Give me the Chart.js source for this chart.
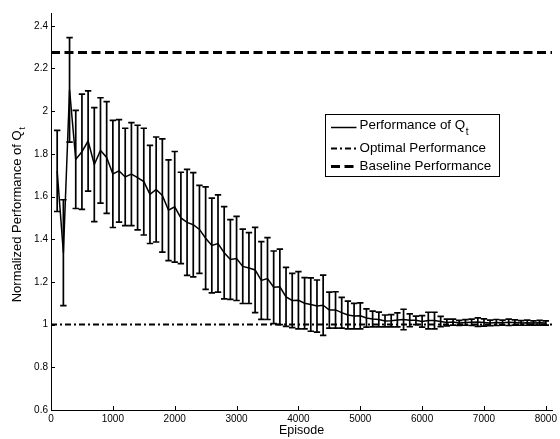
<!DOCTYPE html>
<html>
<head>
<meta charset="utf-8">
<script src="https://cdn.jsdelivr.net/npm/chart.js@4"></script>
<style>
  html, body { margin: 0; padding: 0; background: #fff; }
  #wrap { width: 560px; height: 439px; position: relative; }
</style>
</head>
<body>
<div id="wrap"><canvas id="c" width="560" height="439"></canvas></div>
<script>
// ---- data ----
const episodes = [
  100,200,300,400,500,600,700,800,900,1000,
  1100,1200,1300,1400,1500,1600,1700,1800,1900,2000,
  2100,2200,2300,2400,2500,2600,2700,2800,2900,3000,
  3100,3200,3300,3400,3500,3600,3700,3800,3900,4000,
  4100,4200,4300,4400,4500,4600,4700,4800,4900,5000,
  5100,5200,5300,5400,5500,5600,5700,5800,5900,6000,
  6100,6200,6300,6400,6500,6600,6700,6800,6900,7000,
  7100,7200,7300,7400,7500,7600,7700,7800,7900,8000
];
const perfMean = [
  1.720,1.337,2.100,1.774,1.810,1.860,1.750,1.816,1.783,1.706,
  1.720,1.692,1.705,1.689,1.670,1.610,1.633,1.605,1.536,1.552,
  1.500,1.479,1.468,1.446,1.405,1.371,1.380,1.337,1.305,1.310,
  1.273,1.265,1.256,1.207,1.216,1.175,1.177,1.130,1.113,1.114,
  1.100,1.094,1.087,1.091,1.068,1.069,1.056,1.045,1.040,1.041,
  1.031,1.026,1.024,1.017,1.018,1.022,1.024,1.020,1.020,1.015,
  1.019,1.019,1.015,1.010,1.012,1.008,1.010,1.011,1.012,1.010,
  1.008,1.010,1.009,1.011,1.010,1.008,1.009,1.008,1.009,1.008
];
const perfErr = [
  0.190,0.248,0.245,0.230,0.270,0.235,0.267,0.247,0.262,0.251,
  0.240,0.228,0.241,0.245,0.250,0.230,0.246,0.265,0.236,0.259,
  0.214,0.248,0.244,0.206,0.240,0.222,0.228,0.216,0.187,0.197,
  0.174,0.166,0.200,0.182,0.192,0.170,0.177,0.138,0.127,0.134,
  0.120,0.125,0.122,0.141,0.084,0.085,0.072,0.065,0.060,0.061,
  0.043,0.037,0.035,0.028,0.029,0.033,0.048,0.030,0.020,0.027,
  0.039,0.039,0.024,0.016,0.014,0.012,0.013,0.015,0.020,0.017,
  0.013,0.014,0.012,0.015,0.012,0.011,0.012,0.010,0.011,0.010
];
const optimalValue = 1.0;
const baselineValue = 2.275;
const xTicks = [0,1000,2000,3000,4000,5000,6000,7000,8000];
const yTicks = [0.6,0.8,1.0,1.2,1.4,1.6,1.8,2.0,2.2,2.4];
const xRange = [0, 8100];
const yRange = [0.6, 2.46];
const xTitle = 'Episode';
const yTitleMain = 'Normalized Performance of Q';
const subT = 't';
const legendLabels = ['Performance of Q', 'Optimal Performance', 'Baseline Performance'];

// ---- styles ----
const FONT = '"Liberation Sans", Arial, Helvetica, sans-serif';
const optimalDash = [6, 3, 2, 3];
const baselineDash = [9, 4.5];

const perfPoints = episodes.map((e, i) => ({ x: e, y: perfMean[i] }));

const errorBarPlugin = {
  id: 'errorBars',
  afterDatasetsDraw(chart) {
    const { ctx, chartArea, scales: { x, y } } = chart;
    ctx.save();
    ctx.beginPath();
    ctx.rect(chartArea.left, chartArea.top, chartArea.right - chartArea.left, chartArea.bottom - chartArea.top);
    ctx.clip();
    ctx.strokeStyle = '#000';
    ctx.lineWidth = 1.7;
    const cap = 3.2;
    episodes.forEach((e, i) => {
      const px = x.getPixelForValue(e);
      const pt = y.getPixelForValue(perfMean[i] + perfErr[i]);
      const pb = y.getPixelForValue(perfMean[i] - perfErr[i]);
      ctx.beginPath();
      ctx.moveTo(px, pt); ctx.lineTo(px, pb);
      ctx.moveTo(px - cap, pt); ctx.lineTo(px + cap, pt);
      ctx.moveTo(px - cap, pb); ctx.lineTo(px + cap, pb);
      ctx.stroke();
    });
    ctx.restore();
  }
};

const decorPlugin = {
  id: 'decor',
  afterDraw(chart) {
    const { ctx, chartArea, scales: { x, y } } = chart;
    ctx.save();
    // inward tick marks
    ctx.strokeStyle = '#000';
    ctx.lineWidth = 1;
    const tl = 4;
    xTicks.forEach(v => {
      const px = Math.round(x.getPixelForValue(v)) + 0.5;
      ctx.beginPath();
      ctx.moveTo(px, chartArea.bottom); ctx.lineTo(px, chartArea.bottom - tl);
      ctx.stroke();
    });
    yTicks.forEach(v => {
      const py = Math.round(y.getPixelForValue(v)) + 0.5;
      ctx.beginPath();
      ctx.moveTo(chartArea.left, py); ctx.lineTo(chartArea.left + tl, py);
      ctx.stroke();
    });

    ctx.fillStyle = '#000';
    // x title
    ctx.font = '12.5px ' + FONT;
    ctx.textAlign = 'center';
    ctx.textBaseline = 'middle';
    ctx.fillText(xTitle, (chartArea.left + chartArea.right) / 2, 431);

    // y title with subscript
    ctx.save();
    ctx.translate(17, 215);
    ctx.rotate(-Math.PI / 2);
    ctx.font = '13px ' + FONT;
    const w1 = ctx.measureText(yTitleMain).width;
    ctx.font = '9.5px ' + FONT;
    const w2 = ctx.measureText(subT).width;
    const start = -(w1 + w2) / 2;
    ctx.textAlign = 'left';
    ctx.textBaseline = 'middle';
    ctx.font = '13px ' + FONT;
    ctx.fillText(yTitleMain, start, 0);
    ctx.font = '9.5px ' + FONT;
    ctx.fillText(subT, start + w1 + 0.5, 5);
    ctx.restore();

    // legend
    const bx = 325.5, by = 114.5, bw = 174, bh = 62;
    ctx.fillStyle = '#fff';
    ctx.fillRect(bx, by, bw, bh);
    ctx.strokeStyle = '#000';
    ctx.lineWidth = 1;
    ctx.strokeRect(bx, by, bw, bh);
    const rows = [127.5, 148.5, 166.5];
    const styles = [
      { dash: [], w: 1.5 },
      { dash: optimalDash, w: 2 },
      { dash: baselineDash, w: 3 }
    ];
    rows.forEach((ry, i) => {
      ctx.save();
      ctx.setLineDash(styles[i].dash);
      ctx.lineWidth = styles[i].w;
      ctx.beginPath();
      ctx.moveTo(331, ry); ctx.lineTo(356.5, ry);
      ctx.stroke();
      ctx.restore();
      ctx.fillStyle = '#000';
      ctx.font = '13.4px ' + FONT;
      ctx.textAlign = 'left';
      ctx.textBaseline = 'middle';
      ctx.fillText(legendLabels[i], 359.5, ry - (i === 0 ? 2 : 0));
      if (i === 0) {
        const lw = ctx.measureText(legendLabels[i]).width;
        ctx.font = '10px ' + FONT;
        ctx.fillText(subT, 359.5 + lw + 0.5, ry + 5);
      }
    });
    ctx.restore();
  }
};

new Chart(document.getElementById('c'), {
  type: 'line',
  data: {
    datasets: [
      {
        label: legendLabels[0],
        data: perfPoints,
        borderColor: '#000',
        borderWidth: 1.5,
        pointRadius: 0,
        tension: 0,
        fill: false
      },
      {
        label: legendLabels[1],
        data: [{ x: xRange[0], y: optimalValue }, { x: xRange[1], y: optimalValue }],
        borderColor: '#000',
        borderWidth: 2,
        borderDash: optimalDash,
        pointRadius: 0,
        fill: false
      },
      {
        label: legendLabels[2],
        data: [{ x: xRange[0], y: baselineValue }, { x: xRange[1], y: baselineValue }],
        borderColor: '#000',
        borderWidth: 3,
        borderDash: baselineDash,
        pointRadius: 0,
        fill: false
      }
    ]
  },
  options: {
    responsive: false,
    animation: false,
    events: [],
    layout: { padding: { top: 13, right: 4, left: 0, bottom: 0 } },
    plugins: {
      legend: { display: false },
      tooltip: { enabled: false },
      title: { display: false }
    },
    scales: {
      x: {
        type: 'linear',
        min: xRange[0],
        max: xRange[1],
        afterBuildTicks(s) { s.ticks = xTicks.map(v => ({ value: v })); },
        afterFit(s) { s.height = 29; },
        grid: { display: false, drawTicks: false },
        border: { display: true, color: '#000', width: 1 },
        ticks: {
          font: { family: FONT, size: 10 },
          color: '#000',
          padding: 3,
          maxRotation: 0,
          autoSkip: false,
          callback: v => String(v)
        }
      },
      y: {
        type: 'linear',
        min: yRange[0],
        max: yRange[1],
        afterBuildTicks(s) { s.ticks = yTicks.map(v => ({ value: v })); },
        afterFit(s) { s.width = 51; },
        grid: { display: false, drawTicks: false },
        border: { display: true, color: '#000', width: 1 },
        ticks: {
          font: { family: FONT, size: 10 },
          color: '#000',
          padding: 3,
          autoSkip: false,
          callback: v => String(Math.round(v * 10) / 10)
        }
      }
    }
  },
  plugins: [errorBarPlugin, decorPlugin]
});
</script>
</body>
</html>
